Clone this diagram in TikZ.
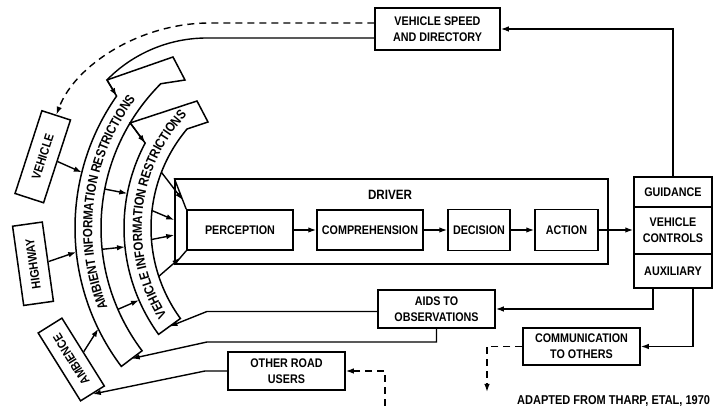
\documentclass[tikz,border=0pt]{standalone}
\usepackage{fontspec}
\setmainfont{Liberation Sans}[FakeStretch=0.86]
\usetikzlibrary{arrows.meta,calc,decorations.text}
\newcommand\boxfont{\bfseries\fontsize{12.5pt}{16pt}\selectfont}
\newcommand\bandfont{\bfseries\fontsize{13.3pt}{15pt}\selectfont}
\begin{document}
\begin{tikzpicture}[x=1pt,y=1pt,
    box/.style={draw=black, line width=1.5pt, align=center, font=\boxfont, inner sep=1pt},
    band/.style={draw=black, line width=1.5pt, line join=miter},
    plain/.style={draw=black, line width=1.4pt},
    flow/.style={draw=black, line width=1.4pt, -{Latex[length=8pt,width=5.5pt]}},
    dashflow/.style={flow, dash pattern=on 7pt off 5pt}]

    \useasboundingbox (0,0) rectangle (715,406);
    \coordinate (c) at (305,178);

    \node[box, minimum width=125pt, minimum height=42pt] (speed) at (437.5,377) {VEHICLE SPEED\\AND DIRECTORY};
    \node[box, minimum width=433pt, minimum height=85pt] (driver) at (391.5,184.5) {};
    \node[font=\bfseries\fontsize{13.5pt}{16pt}\selectfont] (drv) at (390,211) {DRIVER};
    \node[box, minimum width=106pt, minimum height=40pt] (perc) at (240,176) {PERCEPTION};
    \node[box, minimum width=106pt, minimum height=40pt] (comp) at (370,176) {COMPREHENSION};
    \node[box, minimum width=62pt, minimum height=41pt] (dec) at (479,176) {DECISION};
    \node[box, minimum width=63pt, minimum height=41pt] (act) at (566.5,176) {ACTION};
    \node[box, minimum width=78pt, minimum height=30pt] (guide) at (673,214) {GUIDANCE};
    \node[box, minimum width=78pt, minimum height=47pt] (ctrl) at (673,175.5) {VEHICLE\\CONTROLS};
    \node[box, minimum width=78pt, minimum height=34pt] (aux) at (673,135) {AUXILIARY};
    \node[box, minimum width=117pt, minimum height=38pt] (aids) at (436.5,97) {AIDS TO\\OBSERVATIONS};
    \node[box, minimum width=117pt, minimum height=37pt] (comm) at (581.5,59.5) {COMMUNICATION\\TO OTHERS};
    \node[box, minimum width=117pt, minimum height=38pt] (others) at (286.5,35) {OTHER ROAD\\USERS};
    \node[box, minimum width=87pt, minimum height=30pt, rotate=72] (veh) at (42.75,249.25) {VEHICLE};
    \node[box, minimum width=80pt, minimum height=30pt, rotate=98] (hwy) at (33,142.25) {HIGHWAY};
    \node[box, minimum width=80pt, minimum height=28pt, rotate=122] (amb) at (71.25,46.5) {AMBIENCE};
    \node[font=\bfseries\fontsize{12.8pt}{15pt}\selectfont, anchor=base west, inner sep=0pt] (credit) at (517,1.5) {ADAPTED FROM THARP, ETAL, 1970};

    % ambient band
    \coordinate (abo) at ([shift={(217:230pt)}]c);
    \coordinate (ae) at ([shift={(145:230pt)}]c);
    \coordinate (aa) at (107,326);
    \coordinate (ab) at (173,349);
    \coordinate (ad) at (185,326);
    \coordinate (aie) at ([shift={(135:204pt)}]c);
    \draw[band] (abo) arc[start angle=217, end angle=145, radius=230pt] -- (aa) -- (ab) -- (ad) -- (aie)
        arc[start angle=135, end angle=217, radius=204pt] -- cycle;
    \path[decorate, decoration={text along path, text={|\bandfont|AMBIENT INFORMATION RESTRICTIONS}, text align=center, raise=-4.3pt}]
        ([shift={(217:217pt)}]c) arc[start angle=217, end angle=127.8, radius=217pt];

    % vehicle band
    \coordinate (vbo) at ([shift={(216:181pt)}]c);
    \coordinate (ve) at ([shift={(152:181pt)}]c);
    \coordinate (va) at ([shift={(149:204pt)}]c);
    \coordinate (vb) at (197,305);
    \coordinate (vd) at (208,284);
    \coordinate (vie) at ([shift={(140:154pt)}]c);
    \draw[band] (vbo) arc[start angle=216, end angle=152, radius=181pt] -- (va) -- (vb) -- (vd) -- (vie)
        arc[start angle=140, end angle=216, radius=154pt] -- cycle;
    \path[decorate, decoration={text along path, text={|\bandfont|VEHICLE INFORMATION RESTRICTIONS}, text align=center, raise=-4.3pt}]
        ([shift={(218.3:167.5pt)}]c) arc[start angle=218.3, end angle=130.3, radius=167.5pt];

    \draw[flow] (aa) to (ae);
    \draw[flow] (va) to (ve);

    \foreach \a/\n in {169/1,186/2,203.5/3}{
        \coordinate (ai\n) at ([shift={(\a:204pt)}]c);
        \coordinate (vo\n) at ([shift={(\a:181pt)}]c);
        \draw[flow] (ai\n) to (vo\n);
    }
    \foreach \a/\n in {166/1,186/2,206/3}
        \coordinate (ao\n) at ([shift={(\a:230pt)}]c);
    \draw[flow] (veh.south) to (ao1);
    \draw[flow] (hwy.south) to (ao2);
    \draw[flow] (amb.south) to (ao3);

    \draw[plain] (driver.north west) to (perc.north west);
    \draw[plain] (driver.south west) to (perc.south west);
    \coordinate (f1) at ($(driver.north west)!0.7!(perc.north west)$);
    \coordinate (f2) at ([yshift=1.5pt]driver.west);
    \coordinate (f3) at ([yshift=-13.5pt]driver.west);
    \coordinate (f4) at ($(driver.south west)!0.5!(perc.south west)$);
    \foreach \a/\n in {158.8/1,173.5/2,184.3/3,198.3/4}{
        \coordinate (vi\n) at ([shift={(\a:154pt)}]c);
        \draw[flow] (vi\n) to (f\n);
    }

    \draw[flow] (perc) to (comp);
    \draw[flow] (comp) to (dec);
    \draw[flow] (dec) to (act);
    \draw[flow] (act.east) to (act.east -| ctrl.west);
    \draw[flow] (guide.north) |- (speed.east);
    \draw[flow] ([xshift=-20pt]aux.south) |- (aids.east);
    \draw[flow] ([xshift=20pt]aux.south) |- (comm.east);

    \draw[dashflow] ([yshift=6pt]speed.west) -- (210,383) .. controls (140,383) and (75,341) .. (veh.east);
    \draw[plain] ([yshift=-9pt]speed.west) -- (207,368) .. controls (160,368) and (125,345) .. (aa);

    \coordinate (vbm) at ([shift={(216:167.5pt)}]c);
    \coordinate (abm) at ([shift={(217:217pt)}]c);
    \draw[flow] ([yshift=-2.5pt]aids.west) -- (207,94.5) -- (vbm);
    \draw[flow] (aids.south) |- (207,64) -- (abm);
    \draw[flow] (others.west) -- (205,35) -- (amb.west);

    \coordinate (otherin) at (385,0);
    \coordinate (commout) at (487,14);
    \draw[dashflow] (otherin) |- (others.east);
    \draw[dashflow] (comm.west) -| (commout);

\end{tikzpicture}
\end{document}
